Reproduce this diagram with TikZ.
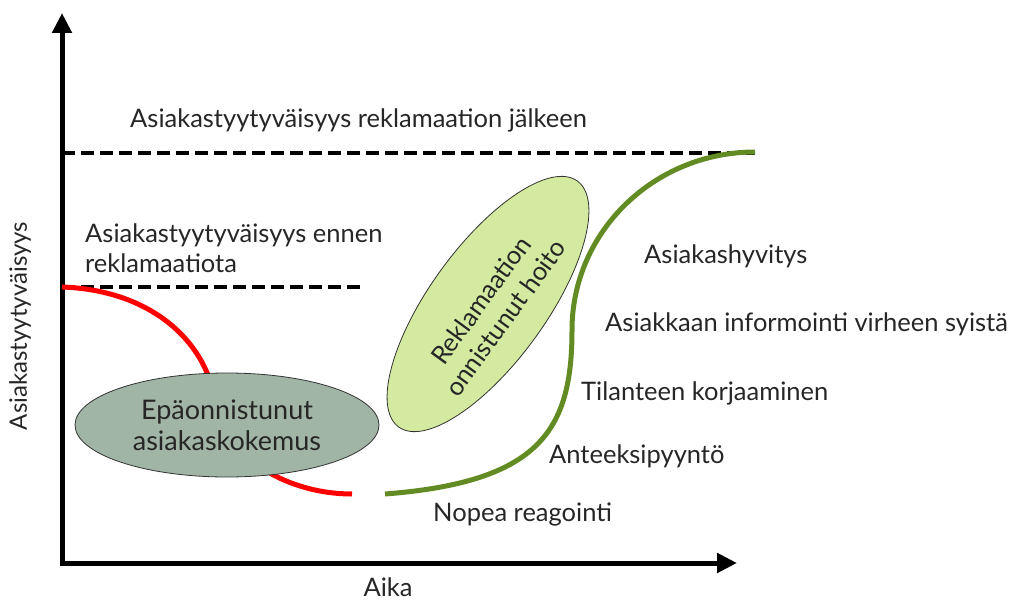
\documentclass[tikz,border=0pt]{standalone}
\usepackage{fontspec}
\setmainfont{Lato}
\usetikzlibrary{arrows.meta,shapes.geometric}
\definecolor{curvered}{RGB}{255,0,0}
\definecolor{curvegreen}{RGB}{98,140,35}
\definecolor{failfill}{RGB}{160,181,166}
\definecolor{okfill}{RGB}{212,234,160}
\begin{document}
\begin{tikzpicture}[x=1pt,y=1pt,
  axis/.style={line width=5pt,-{Triangle[length=20pt,width=19pt]}},
  level/.style={line width=3.2pt,dash pattern=on 13pt off 6pt},
  lbl/.style={font=\fontsize{25.5}{30}\selectfont,text=black!85,inner sep=0pt},
  stage/.style={lbl,anchor=west},
  blob/.style={ellipse,draw=black!80,line width=0.8pt,inner sep=0pt}]
\useasboundingbox (0,0) rectangle (1019,-602);
% axes
\coordinate (ytop) at (62,-13);
\coordinate (xend) at (737,-563);
\draw[axis] (62,-565.5) -- (ytop);
\draw[axis] (59.5,-563) -- (xend);
% satisfaction levels
\coordinate (hiL) at (62,-153);
\coordinate (hiR) at (755,-153);
\coordinate (loL) at (62,-287);
\coordinate (loR) at (362,-287);
\draw[level] (hiL) -- (hiR);
\draw[level] (loL) -- (loR);
% failed path
\coordinate (redA) at (62,-287);
\coordinate (redM) at (215,-400);
\coordinate (redB) at (352,-494);
\draw[curvered,line width=5pt] (redA) .. controls (150,-290) and (205,-340) .. (redM)
  .. controls (225,-460) and (290,-494) .. (redB);
% successful path
\coordinate (grA) at (385,-494);
\coordinate (grM) at (572,-330);
\coordinate (grB) at (755,-152);
\draw[curvegreen,line width=5pt] (grA) .. controls (540,-482) and (572,-430) .. (grM)
  .. controls (572,-232) and (654,-152) .. (grB);
% ellipses
\node[blob,fill=failfill,minimum width=304pt,minimum height=104pt] (fail) at (227,-425) {};
\node[lbl,align=center,font=\fontsize{27}{31}\selectfont] (failtxt) at (fail.center) {Epäonnistunut\\asiakaskokemus};
\node[blob,fill=okfill,minimum width=304pt,minimum height=116pt,rotate=54] (ok) at (488,-304) {};
\node[lbl,align=center,rotate=54] (oktxt) at (493,-309) {Reklamaation\\onnistunut hoito};
% labels
\node[stage] (after) at (130,-120) {Asiakastyytyväisyys reklamaation jälkeen};
\node[lbl,anchor=west,align=left] (before) at (85,-248) {Asiakastyytyväisyys ennen\\reklamaatiota};
\node[lbl,rotate=90,font=\fontsize{24}{28}\selectfont] (ylab) at (20,-326) {Asiakastyytyväisyys};
\node[lbl] (xlab) at (388,-587) {Aika};
\node[stage] (s5) at (644,-256) {Asiakashyvitys};
\node[stage] (s4) at (605,-324) {Asiakkaan informointi virheen syistä};
\node[stage] (s3) at (581,-393) {Tilanteen korjaaminen};
\node[stage] (s2) at (549,-456) {Anteeksipyyntö};
\node[stage] (s1) at (433,-514) {Nopea reagointi};
\end{tikzpicture}
\end{document}
